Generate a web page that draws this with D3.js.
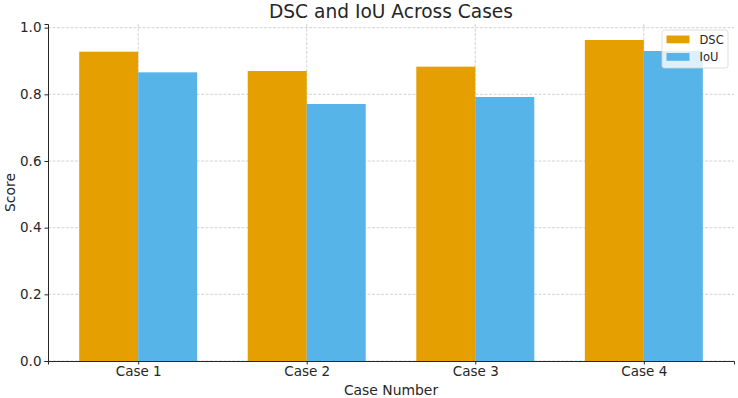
<!DOCTYPE html>
<html>
<head>
<meta charset="utf-8">
<script src="https://cdn.jsdelivr.net/npm/d3@7"></script>
<style>
  body { margin: 0; background: #fff; }
  text { font-family: 'DejaVu Sans', sans-serif; fill: #262626; }
</style>
</head>
<body>
<div id="chart"></div>
<script>
// data
const cases = ['Case 1', 'Case 2', 'Case 3', 'Case 4'];
const dsc = [0.928, 0.870, 0.883, 0.963];
const iou = [0.866, 0.771, 0.792, 0.930];
const yTicks = [0.0, 0.2, 0.4, 0.6, 0.8, 1.0];

const width = 738;
const height = 398;
const margin = { left: 48, right: 4, top: 24, bottom: 37 };

const svg = d3.select('#chart')
  .append('svg')
  .attr('width', width)
  .attr('height', height);

const barW = 0.35;
const x = d3.scaleLinear()
  .domain([-0.535, cases.length - 1 + 0.535])
  .range([margin.left, width - margin.right]);

const y = d3.scaleLinear()
  .domain([0, 1.011])
  .range([height - margin.bottom, margin.top]);

// grid
const grid = svg.append('g')
  .attr('stroke', '#b0b0b0')
  .attr('stroke-opacity', 0.7)
  .attr('stroke-width', 0.8)
  .attr('stroke-dasharray', '3,1.5');

grid.selectAll('.gy')
  .data(yTicks)
  .join('line')
  .attr('x1', margin.left).attr('x2', width - margin.right)
  .attr('y1', d => y(d)).attr('y2', d => y(d));

grid.selectAll('.gx')
  .data(cases)
  .join('line')
  .attr('x1', (d, i) => x(i)).attr('x2', (d, i) => x(i))
  .attr('y1', margin.top).attr('y2', height - margin.bottom);

// bars
const series = [
  { name: 'DSC', values: dsc, color: '#E69F00', offset: -barW / 2 },
  { name: 'IoU', values: iou, color: '#56B4E9', offset: barW / 2 }
];

series.forEach(s => {
  svg.append('g')
    .selectAll('rect')
    .data(s.values)
    .join('rect')
    .attr('x', (d, i) => x(i + s.offset - barW / 2))
    .attr('width', x(barW) - x(0))
    .attr('y', d => y(d))
    .attr('height', d => y(0) - y(d))
    .attr('fill', s.color);
});

// axes
const xAxis = svg.append('g')
  .attr('transform', `translate(0,${height - margin.bottom})`)
  .call(d3.axisBottom(x)
    .tickValues(d3.range(cases.length))
    .tickFormat(i => cases[i])
    .tickSizeOuter(0)
    .tickSize(3.5)
    .tickPadding(2));

const yAxis = svg.append('g')
  .attr('transform', `translate(${margin.left},0)`)
  .call(d3.axisLeft(y)
    .tickValues(yTicks)
    .tickFormat(d3.format('.1f'))
    .tickSizeOuter(0)
    .tickSize(3.5)
    .tickPadding(3));

[xAxis, yAxis].forEach(a => {
  a.select('.domain').attr('stroke', '#262626').attr('stroke-width', 1);
  a.selectAll('.tick line').attr('stroke', '#262626');
  a.selectAll('.tick text')
    .style('font-family', "'DejaVu Sans', sans-serif")
    .style('font-size', '13.5px')
    .attr('fill', '#262626');
});

// labels
svg.append('text')
  .attr('x', (margin.left + width - margin.right) / 2)
  .attr('y', 17.5)
  .attr('text-anchor', 'middle')
  .style('font-size', '18.6px')
  .text('DSC and IoU Across Cases');

svg.append('text')
  .attr('x', (margin.left + width - margin.right) / 2)
  .attr('y', 395)
  .attr('text-anchor', 'middle')
  .style('font-size', '13.9px')
  .text('Case Number');

svg.append('text')
  .attr('transform', `translate(15,${(margin.top + height - margin.bottom) / 2}) rotate(-90)`)
  .attr('text-anchor', 'middle')
  .style('font-size', '13.9px')
  .text('Score');

// legend
const lg = svg.append('g').attr('transform', 'translate(662,30)');
lg.append('rect')
  .attr('width', 66).attr('height', 38)
  .attr('rx', 2.5)
  .attr('fill', '#fff').attr('fill-opacity', 0.8)
  .attr('stroke', '#d6d6d6').attr('stroke-width', 0.8);

series.forEach((s, i) => {
  const row = lg.append('g').attr('transform', `translate(4.5,${5.5 + i * 17.5})`);
  row.append('rect')
    .attr('width', 23).attr('height', 7.8)
    .attr('fill', s.color);
  row.append('text')
    .attr('x', 33)
    .attr('y', 8.3)
    .style('font-size', '11.5px')
    .text(s.name);
});
</script>
</body>
</html>
